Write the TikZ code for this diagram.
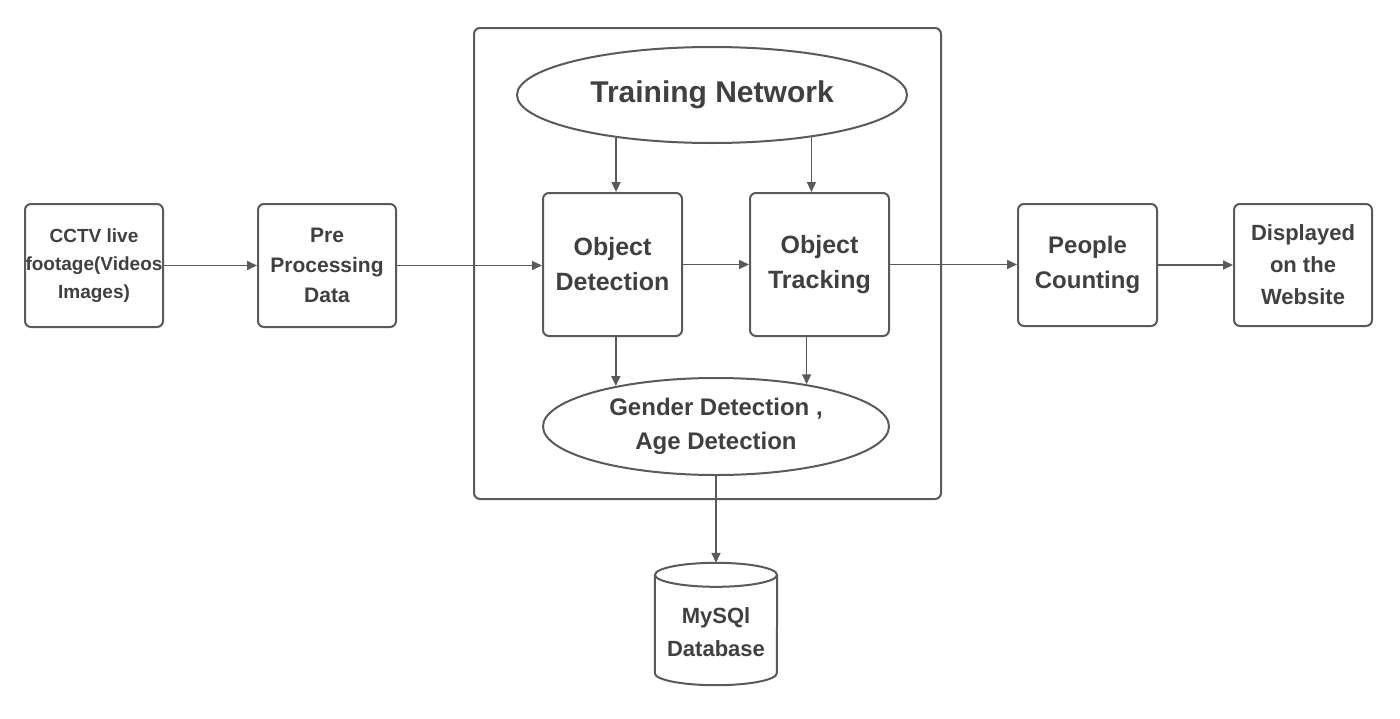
\documentclass[tikz,border=0pt]{standalone}
\usepackage{fontspec}
\setmainfont{Liberation Sans}
\usetikzlibrary{arrows.meta,shapes.geometric}
\definecolor{ln}{HTML}{5A5A5A}
\definecolor{tx}{HTML}{404040}
\begin{document}
\begin{tikzpicture}[x=1pt,y=-1pt,
  box/.style={draw=ln,line width=2pt,rounded corners=6pt,align=center,text=tx,inner sep=0pt},
  oval/.style={draw=ln,line width=2pt,ellipse,align=center,text=tx,inner sep=0pt},
  arr/.style={draw=ln,line width=1.6pt,-{Triangle[length=10pt,width=9pt]}},
  fs/.style args={#1/#2}{font=\fontsize{#1}{#2}\selectfont\bfseries}]
\useasboundingbox[fill=white] (0,0) rectangle (1400,718);

\node[box,minimum width=467pt,minimum height=471pt] (frame) at (707.5,263.5) {};

\node[box,fs=19/28,minimum width=138pt,minimum height=123pt] (cctv) at (94,265.5) {CCTV live\\footage(Videos\\Images)};
\node[box,fs=21/30,minimum width=138pt,minimum height=123pt] (pre) at (327,265.5) {Pre\\Processing\\Data};
\node[oval,fs=30/36,minimum width=390pt,minimum height=96pt] (train) at (712,95) {Training Network};
\node[box,fs=25/35,minimum width=139pt,minimum height=143pt] (od) at (612.5,264.5) {Object\\Detection};
\node[box,fs=25/35,minimum width=139pt,minimum height=143pt] (ot) at (819.5,264.5) {Object\\Tracking};
\node[oval,fs=24/34,minimum width=346pt,minimum height=97pt] (gen) at (716,426.5) {Gender Detection ,\\Age Detection};
\node[box,fs=24/35,minimum width=139pt,minimum height=122pt] (pc) at (1087.5,265) {People\\Counting};
\node[box,fs=22/32,minimum width=138pt,minimum height=122pt] (disp) at (1303,265) {Displayed\\on the\\Website};

\node[minimum width=122pt,minimum height=122pt,inner sep=0pt] (db) at (716,624) {};
\draw[ln,line width=2pt] ([yshift=-12pt]db.north west) -- ([yshift=12pt]db.south west)
  arc[start angle=180,end angle=360,x radius=61pt,y radius=12pt]
  -- ([yshift=-12pt]db.north east);
\draw[ln,line width=2pt] ([yshift=-12pt]db.north) ellipse[x radius=61pt,y radius=12pt];
\node[align=center,text=tx,fs=22/33,inner sep=0pt] (dbtext) at ([yshift=-8pt]db.center) {MySQl\\Database};

\draw[arr] (cctv.east) -- (pre.west);
\draw[arr] (pre.east) -- (pre.east -| od.west);
\draw[arr] (od.east) -- (ot.west);
\draw[arr] (ot.east) -- (ot.east -| pc.west);
\draw[arr] (pc.east) -- (disp.west);
\draw[arr] (train.204) -- (train.204 |- od.north);
\draw[arr] (train.337) -- (train.337 |- ot.north);
\draw[arr] (od.south -| gen.158) -- (gen.158);
\draw[arr] (ot.south -| gen.25) -- (gen.25);
\draw[arr] (gen.south) -- (db.north);
\end{tikzpicture}
\end{document}
